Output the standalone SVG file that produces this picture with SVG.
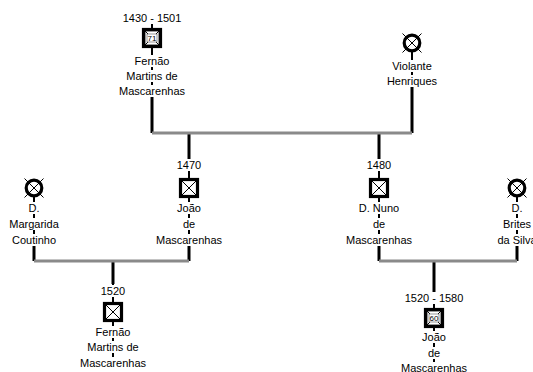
<svg xmlns="http://www.w3.org/2000/svg" width="533" height="372" viewBox="0 0 533 372">
<style>
text{font-family:"Liberation Sans",Arial,sans-serif;font-size:11px;fill:#000;text-anchor:middle}
.thin{stroke:#000;stroke-width:2;fill:none}
.thick{stroke:#000;stroke-width:3;fill:none}
.bar{stroke:#8a8a8a;stroke-width:3;fill:none}
.bg{fill:#fff}
.sq{fill:#fff;stroke:#000;stroke-width:3.2}
.ci{fill:#fff;stroke:#000;stroke-width:3.2}
.x{stroke:#000;stroke-width:1}
.in{fill:none;stroke:#777;stroke-width:0.7}
.nb{fill:#fff;stroke:#555;stroke-width:0.6}
.age{font-size:8px}
</style>
<defs>
<g id="sqX">
<rect class="sq" x="-8.5" y="-8.5" width="17" height="17"/>
<line class="x" x1="-7" y1="-7" x2="7" y2="7"/>
<line class="x" x1="7" y1="-7" x2="-7" y2="7"/>
</g>
<g id="sqA">
<rect class="sq" x="-8.5" y="-8.5" width="17" height="17"/>
<rect class="in" x="-6.5" y="-6.5" width="13" height="13"/>
<line class="x" x1="-7" y1="-7" x2="7" y2="7"/>
<line class="x" x1="7" y1="-7" x2="-7" y2="7"/>
<rect class="nb" x="-5" y="-4" width="10" height="8"/>
</g>
<g id="ciX">
<circle class="ci" r="7.8"/>
<line class="x" x1="-9.5" y1="-9.5" x2="9.5" y2="9.5"/>
<line class="x" x1="9.5" y1="-9.5" x2="-9.5" y2="9.5"/>
</g>
</defs>

<g id="connectors">
<line class="thin" x1="152" y1="14" x2="152" y2="98"/>
<line class="thin" x1="412" y1="43" x2="412" y2="88"/>
<line class="thin" x1="189" y1="160" x2="189" y2="247"/>
<line class="thin" x1="34" y1="188" x2="34" y2="247"/>
<line class="thin" x1="379" y1="160" x2="379" y2="247"/>
<line class="thin" x1="517" y1="188" x2="517" y2="247"/>
<line class="thin" x1="113" y1="284" x2="113" y2="365"/>
<line class="thin" x1="434" y1="292" x2="434" y2="372"/>
<line class="thick" x1="152" y1="97" x2="152" y2="133"/>
<line class="thick" x1="412" y1="87" x2="412" y2="133"/>
<line class="thick" x1="189" y1="246" x2="189" y2="261"/>
<line class="thick" x1="34" y1="246" x2="34" y2="261"/>
<line class="thick" x1="379" y1="246" x2="379" y2="261"/>
<line class="thick" x1="517" y1="246" x2="517" y2="261"/>
<line class="thick" x1="189" y1="133" x2="189" y2="160"/>
<line class="thick" x1="379" y1="133" x2="379" y2="160"/>
<line class="thick" x1="113" y1="261" x2="113" y2="284"/>
<line class="thick" x1="434" y1="261" x2="434" y2="292"/>
<line class="bar" x1="152" y1="133" x2="412" y2="133"/>
<line class="bar" x1="34" y1="261" x2="189" y2="261"/>
<line class="bar" x1="379" y1="261" x2="517" y2="261"/>
</g>

<g id="n_fernao_1430">
<rect class="bg" x="142" y="12" width="20" height="12"/>
<text x="152" y="22">1430 - 1501</text>
<use href="#sqA" x="152" y="38"/>
<text class="age" x="152" y="41">71</text>
<rect class="bg" x="142" y="55" width="20" height="12"/>
<rect class="bg" x="142" y="70" width="20" height="12"/>
<rect class="bg" x="142" y="85" width="20" height="12"/>
<text x="152" y="65">Fernão</text>
<text x="152" y="80">Martins de</text>
<text x="152" y="95">Mascarenhas</text>
</g>

<g id="n_violante">
<use href="#ciX" x="412" y="43"/>
<rect class="bg" x="402" y="60" width="20" height="12"/>
<rect class="bg" x="402" y="75" width="20" height="12"/>
<text x="412" y="70">Violante</text>
<text x="412" y="85">Henriques</text>
</g>

<g id="n_joao_1470">
<rect class="bg" x="179" y="159" width="20" height="12"/>
<text x="189" y="169">1470</text>
<use href="#sqX" x="189" y="188"/>
<rect class="bg" x="179" y="202" width="20" height="12"/>
<rect class="bg" x="179" y="218" width="20" height="12"/>
<rect class="bg" x="179" y="234" width="20" height="12"/>
<text x="189" y="212">João</text>
<text x="189" y="228">de</text>
<text x="189" y="244">Mascarenhas</text>
</g>

<g id="n_margarida">
<use href="#ciX" x="34" y="188"/>
<rect class="bg" x="24" y="202" width="20" height="12"/>
<rect class="bg" x="24" y="218" width="20" height="12"/>
<rect class="bg" x="24" y="234" width="20" height="12"/>
<text x="34" y="212">D.</text>
<text x="34" y="228">Margarida</text>
<text x="34" y="244">Coutinho</text>
</g>

<g id="n_nuno">
<rect class="bg" x="369" y="159" width="20" height="12"/>
<text x="379" y="169">1480</text>
<use href="#sqX" x="379" y="188"/>
<rect class="bg" x="369" y="202" width="20" height="12"/>
<rect class="bg" x="369" y="218" width="20" height="12"/>
<rect class="bg" x="369" y="234" width="20" height="12"/>
<text x="379" y="212">D. Nuno</text>
<text x="379" y="228">de</text>
<text x="379" y="244">Mascarenhas</text>
</g>

<g id="n_brites">
<use href="#ciX" x="517" y="188"/>
<rect class="bg" x="507" y="202" width="20" height="12"/>
<rect class="bg" x="507" y="218" width="20" height="12"/>
<rect class="bg" x="507" y="234" width="20" height="12"/>
<text x="517" y="212">D.</text>
<text x="517" y="228">Brites</text>
<text x="517" y="244">da Silva</text>
</g>

<g id="n_fernao_1520">
<rect class="bg" x="103" y="285" width="20" height="12"/>
<text x="113" y="295">1520</text>
<use href="#sqX" x="113" y="312"/>
<rect class="bg" x="103" y="326" width="20" height="12"/>
<rect class="bg" x="103" y="341" width="20" height="12"/>
<rect class="bg" x="103" y="357" width="20" height="12"/>
<text x="113" y="336">Fernão</text>
<text x="113" y="351">Martins de</text>
<text x="113" y="367">Mascarenhas</text>
</g>

<g id="n_joao_1520">
<rect class="bg" x="424" y="292" width="20" height="12"/>
<text x="434" y="302">1520 - 1580</text>
<use href="#sqA" x="434" y="318"/>
<text class="age" x="434" y="321">60</text>
<rect class="bg" x="424" y="331" width="20" height="12"/>
<rect class="bg" x="424" y="347" width="20" height="12"/>
<rect class="bg" x="424" y="362" width="20" height="12"/>
<text x="434" y="341">João</text>
<text x="434" y="357">de</text>
<text x="434" y="372">Mascarenhas</text>
</g>
</svg>
